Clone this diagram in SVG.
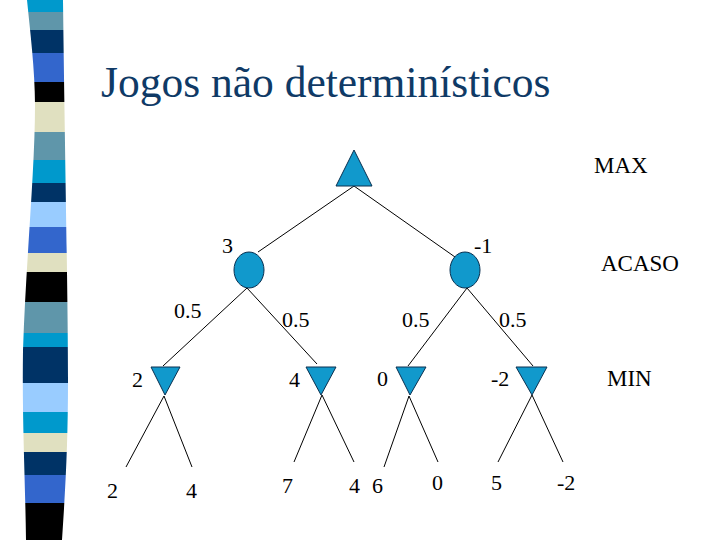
<svg xmlns="http://www.w3.org/2000/svg" width="720" height="540" viewBox="0 0 720 540" font-family="Liberation Serif, DejaVu Serif, serif">
<style>
.t{fill:#000;font-size:22px}
.n{fill:#1199cc;stroke:#0a3050;stroke-width:1}
.e{stroke:#000;stroke-width:1;fill:none}
</style>
<defs>
<clipPath id="strip"><path d="M27,0 C30,30 35,70 35,105 C35,170 26,260 23,350 C22,420 25,470 26,540 L62,540 C66,480 68,440 68,380 C68,300 65,160 63,0 Z"/></clipPath>
</defs>
<rect width="720" height="540" fill="#fff"/>
<g id="strip-deco" clip-path="url(#strip)">
<rect x="0" y="0" width="80" height="12" fill="#0099cc"/>
<rect x="0" y="12" width="80" height="18" fill="#5f96aa"/>
<rect x="0" y="30" width="80" height="23" fill="#003366"/>
<rect x="0" y="53" width="80" height="29" fill="#3366cc"/>
<rect x="0" y="82" width="80" height="20" fill="#000"/>
<rect x="0" y="102" width="80" height="30" fill="#e0e0c0"/>
<rect x="0" y="132" width="80" height="28" fill="#5f96aa"/>
<rect x="0" y="160" width="80" height="23" fill="#0099cc"/>
<rect x="0" y="183" width="80" height="19" fill="#003366"/>
<rect x="0" y="202" width="80" height="25" fill="#99ccff"/>
<rect x="0" y="227" width="80" height="26" fill="#3366cc"/>
<rect x="0" y="253" width="80" height="19" fill="#e0e0c0"/>
<rect x="0" y="272" width="80" height="30" fill="#000"/>
<rect x="0" y="302" width="80" height="31" fill="#5f96aa"/>
<rect x="0" y="333" width="80" height="14" fill="#0099cc"/>
<rect x="0" y="347" width="80" height="36" fill="#003366"/>
<rect x="0" y="383" width="80" height="29" fill="#99ccff"/>
<rect x="0" y="412" width="80" height="21" fill="#0099cc"/>
<rect x="0" y="433" width="80" height="19" fill="#e0e0c0"/>
<rect x="0" y="452" width="80" height="23" fill="#003366"/>
<rect x="0" y="475" width="80" height="28" fill="#3366cc"/>
<rect x="0" y="503" width="80" height="37" fill="#000"/>
</g>
<text id="title" x="101" y="97" font-size="43.5" fill="#0f3a66">Jogos não determinísticos</text>
<g id="connectors">
<line class="e" x1="354" y1="186" x2="258" y2="252"/>
<line class="e" x1="354" y1="186" x2="455" y2="257"/>
<line class="e" x1="247" y1="288" x2="163" y2="366"/>
<line class="e" x1="247" y1="288" x2="317" y2="364"/>
<line class="e" x1="467" y1="288" x2="408" y2="366"/>
<line class="e" x1="467" y1="288" x2="533" y2="366"/>
<line class="e" x1="164" y1="396" x2="126" y2="467"/>
<line class="e" x1="164" y1="396" x2="192" y2="467"/>
<line class="e" x1="322" y1="395" x2="294" y2="462"/>
<line class="e" x1="322" y1="395" x2="354" y2="462"/>
<line class="e" x1="409" y1="396" x2="384" y2="467"/>
<line class="e" x1="409" y1="396" x2="438" y2="462"/>
<line class="e" x1="532" y1="395" x2="498" y2="462"/>
<line class="e" x1="532" y1="395" x2="563" y2="462"/>
</g>
<g id="max-root"><polygon class="n" points="354,150 336,186 372,186"/></g>
<g id="chance-left"><ellipse class="n" cx="249" cy="270" rx="15" ry="18"/></g>
<g id="chance-right"><ellipse class="n" cx="465" cy="270" rx="15" ry="18"/></g>
<g id="min-1"><polygon class="n" points="151,367 180,367 165,395"/></g>
<g id="min-2"><polygon class="n" points="306,367 336,367 321,395"/></g>
<g id="min-3"><polygon class="n" points="396,367 426,367 410,395"/></g>
<g id="min-4"><polygon class="n" points="516,367 547,367 532,395"/></g>
<g id="labels">
<text class="t" x="594" y="173" font-size="23" style="font-size:23px">MAX</text>
<text class="t" x="601" y="271" style="font-size:23px">ACASO</text>
<text class="t" x="607" y="386" style="font-size:23px">MIN</text>
<text class="t" x="222" y="253">3</text>
<text class="t" x="474" y="253">-1</text>
<text class="t" x="174" y="318">0.5</text>
<text class="t" x="282" y="327">0.5</text>
<text class="t" x="402" y="327">0.5</text>
<text class="t" x="499" y="327">0.5</text>
<text class="t" x="132" y="387">2</text>
<text class="t" x="289" y="387">4</text>
<text class="t" x="377" y="386">0</text>
<text class="t" x="491" y="386">-2</text>
<text class="t" x="107" y="498">2</text>
<text class="t" x="186" y="498">4</text>
<text class="t" x="282" y="493">7</text>
<text class="t" x="349" y="493">4</text>
<text class="t" x="372" y="493">6</text>
<text class="t" x="432" y="490">0</text>
<text class="t" x="491" y="490">5</text>
<text class="t" x="557" y="490">-2</text>
</g>
</svg>
